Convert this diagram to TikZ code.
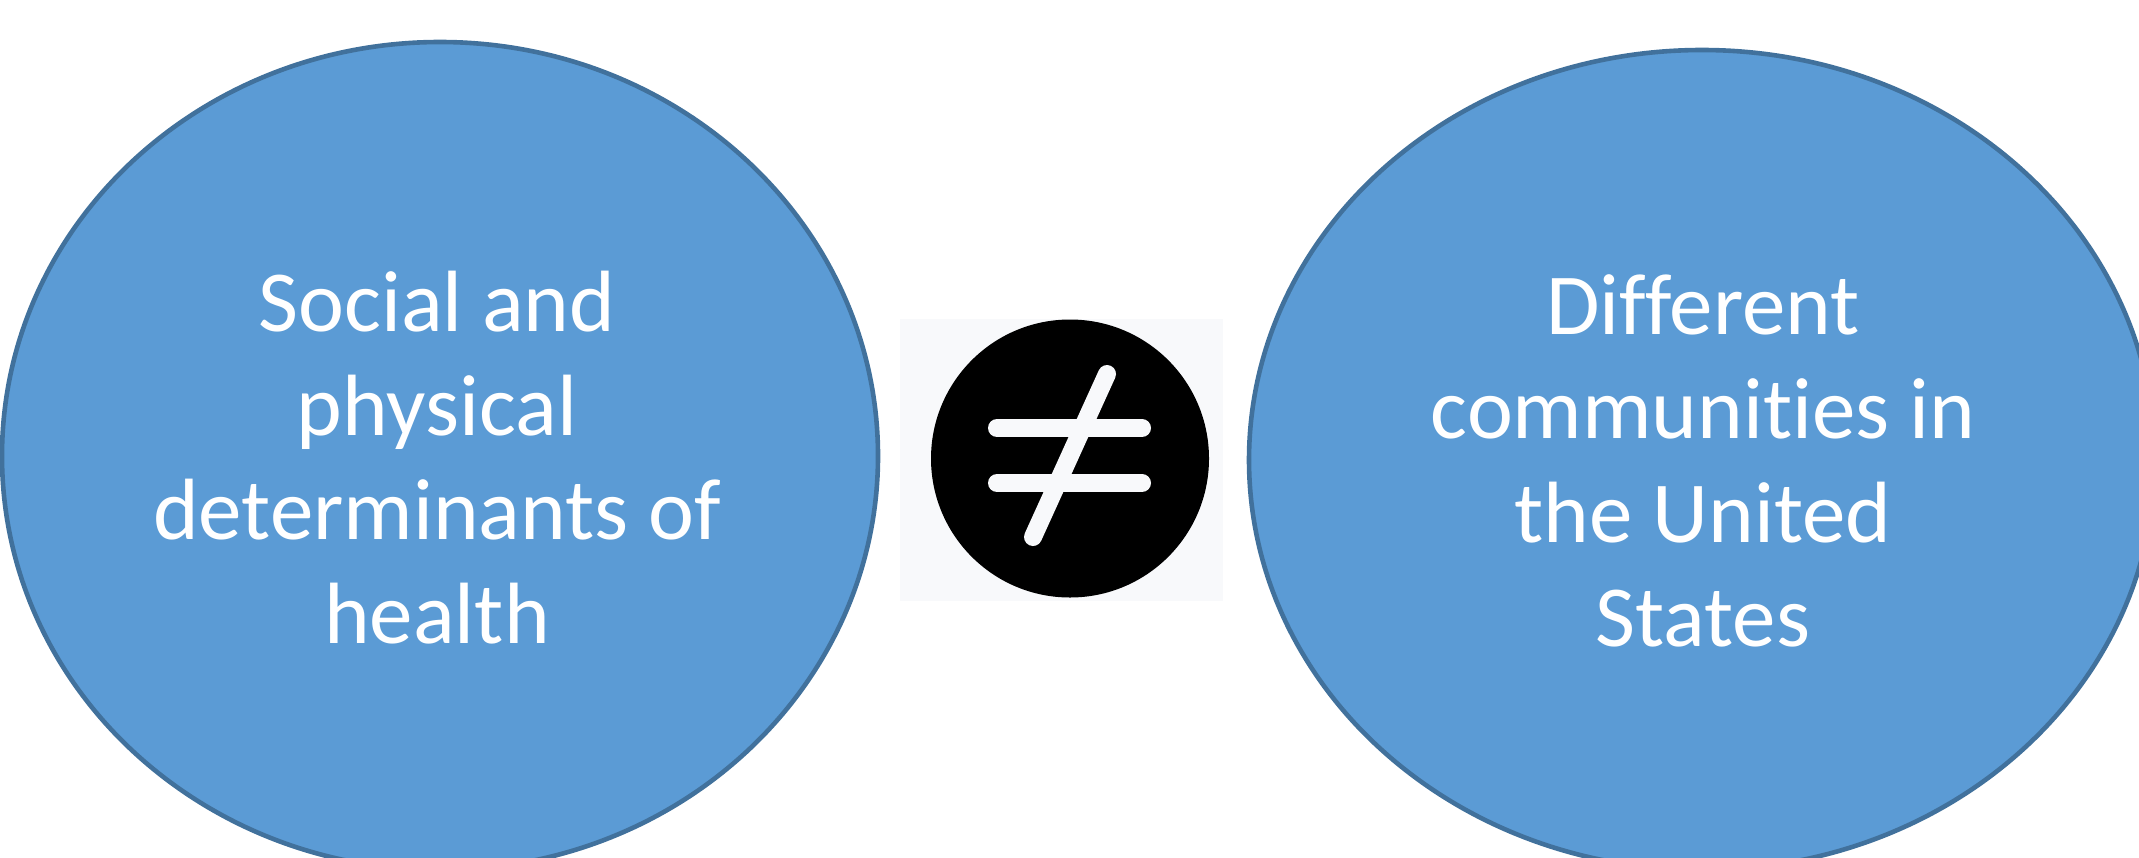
\documentclass[tikz,border=0pt]{standalone}
\usepackage{fontspec}
\setmainfont{Carlito}[Ligatures={NoCommon,NoContextual}]
\usetikzlibrary{shapes.geometric}
\definecolor{bubblefill}{HTML}{5B9BD5}
\definecolor{bubbleline}{HTML}{41719C}
\definecolor{iconbg}{HTML}{F8F9FB}
\begin{document}
\begin{tikzpicture}[x=0.5pt,y=-0.5pt,
  bubble/.style={ellipse, draw=bubbleline, fill=bubblefill, line width=2.3pt, inner sep=0pt},
  bubbletext/.style={anchor=base, text=white, inner sep=0pt,
    font=\fontsize{43.5}{52}\selectfont},
  bar/.style={draw=iconbg, line width=9pt, line cap=round}]
\useasboundingbox (0,0) rectangle (2139,857);
\clip (0,0) rectangle (2139,857);

% the two compared sets
\node[bubble, minimum width=438pt, minimum height=414pt] (left) at (440,456) {};
\node[bubble, minimum width=453pt, minimum height=410pt] (right) at (1702,460) {};

\node[bubbletext] (lefttext) at (437,331)
  {\begin{tabular}[t]{@{}c@{}}Social and\\physical\\determinants of\\health\end{tabular}};
\node[bubbletext] (righttext) at (1703,334)
  {\begin{tabular}[t]{@{}c@{}}Different\\communities in\\the United\\States\end{tabular}};

% "not equal" icon between them
\node[fill=iconbg, minimum width=161.5pt, minimum height=141pt, inner sep=0pt]
  (iconbox) at (1061.5,460) {};
\node[circle, fill=black, minimum size=139pt, inner sep=0pt] (disc) at (1070,458.5) {};

\coordinate (upperL) at (997,428);
\coordinate (upperR) at (1142,428);
\coordinate (lowerL) at (997,483);
\coordinate (lowerR) at (1142,483);
\coordinate (slashTop) at (1107,374);
\coordinate (slashBot) at (1033,537);

\draw[bar] (upperL) -- (upperR);
\draw[bar] (lowerL) -- (lowerR);
\draw[bar] (slashBot) -- (slashTop);
\end{tikzpicture}
\end{document}
